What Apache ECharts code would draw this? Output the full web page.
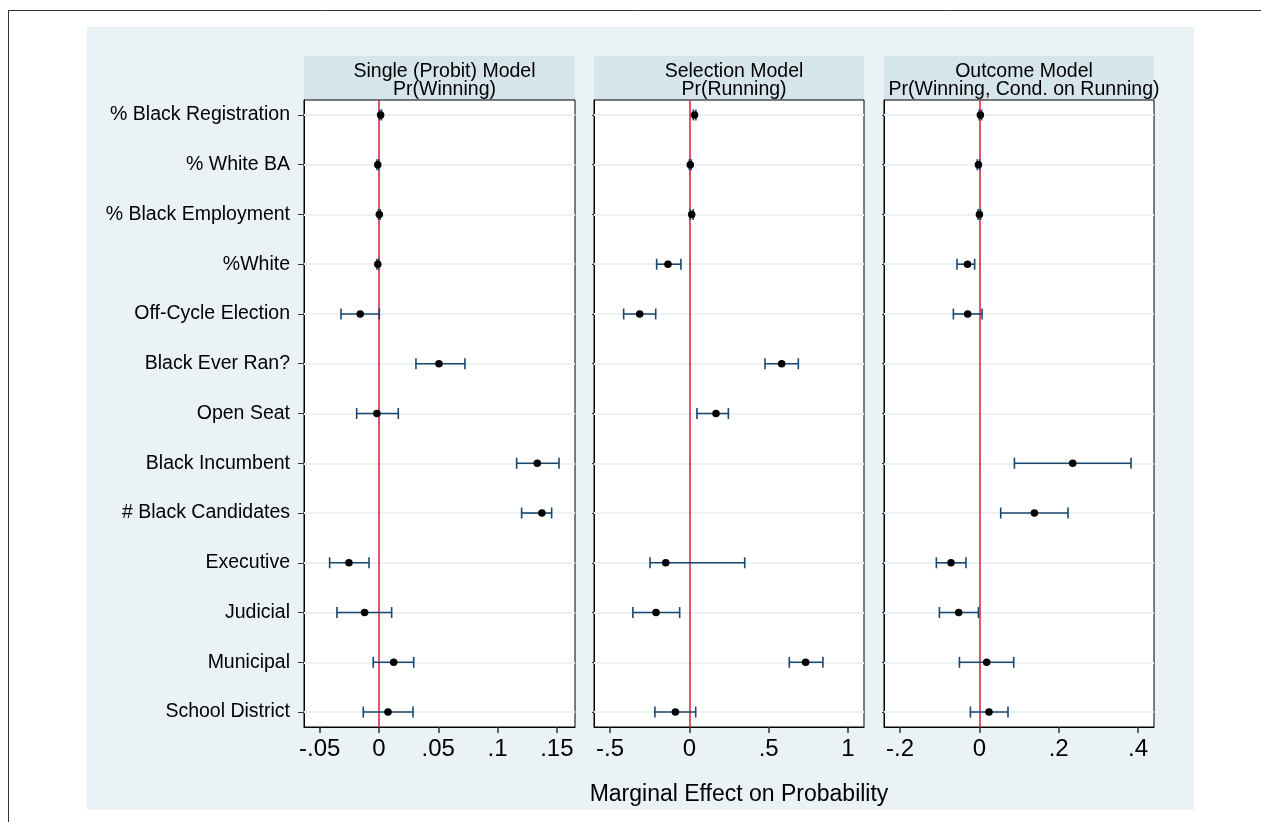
<!DOCTYPE html>
<html>
<head>
<meta charset="utf-8">
<script src="https://cdn.jsdelivr.net/npm/echarts@6/dist/echarts.min.js"></script>
<style>
  html, body { margin: 0; padding: 0; background: #fff; }
  #chart { width: 1261px; height: 822px; }
</style>
</head>
<body>
<div id="chart"></div>
<script>
// row labels, top to bottom
var categories = [
  "% Black Registration", "% White BA", "% Black Employment", "%White",
  "Off-Cycle Election", "Black Ever Ran?", "Open Seat", "Black Incumbent",
  "# Black Candidates", "Executive", "Judicial", "Municipal", "School District"
];

// Single (Probit) model - Pr(Winning)
var probitEst = [0.0014, -0.001, 0.0003, -0.001, -0.0158, 0.0506, -0.0017, 0.1335, 0.1374, -0.0253, -0.0121, 0.0124, 0.0076];
var probitLo  = [0.0006, -0.0017, -0.0004, -0.0017, -0.032, 0.0312, -0.0188, 0.1161, 0.1203, -0.0416, -0.0354, -0.0048, -0.0132];
var probitHi  = [0.0022, -0.0003, 0.001, -0.0003, 0.0003, 0.0725, 0.0163, 0.1518, 0.1456, -0.0084, 0.0107, 0.0293, 0.0287];

// Selection model - Pr(Running)
var selEst = [0.033, 0.006, 0.015, -0.135, -0.313, 0.582, 0.168, null, null, -0.149, -0.21, 0.733, -0.088];
var selLo  = [0.025, 0.0, 0.006, -0.206, -0.414, 0.477, 0.048, null, null, -0.248, -0.356, 0.63, -0.217];
var selHi  = [0.041, 0.012, 0.024, -0.053, -0.212, 0.687, 0.246, null, null, 0.349, -0.061, 0.842, 0.04];

// Outcome model - Pr(Winning, Cond. on Running)
var outEst = [0.0025, -0.0025, 0.0, -0.030, -0.0295, null, null, 0.2353, 0.1387, -0.0716, -0.0522, 0.0184, 0.0242];
var outLo  = [-0.0005, -0.0055, -0.003, -0.0565, -0.0656, null, null, 0.0883, 0.0537, -0.1085, -0.1009, -0.0504, -0.0227];
var outHi  = [0.0055, 0.0005, 0.003, -0.012, 0.0066, null, null, 0.3824, 0.2235, -0.0338, -0.0025, 0.0865, 0.0721];

// x tick values and labels per panel
var probitTicks = [-0.05, 0, 0.05, 0.1, 0.15];
var probitTickLabels = ["-.05", "0", ".05", ".1", ".15"];
var selTicks = [-0.5, 0, 0.5, 1];
var selTickLabels = ["-.5", "0", ".5", "1"];
var outTicks = [-0.2, 0, 0.2, 0.4];
var outTickLabels = ["-.2", "0", ".2", ".4"];

var panelTitles = [
  "Single (Probit) Model\nPr(Winning)",
  "Selection Model\nPr(Running)",
  "Outcome Model\nPr(Winning, Cond. on Running)"
];

var FONT = "'Liberation Sans', Arial, Helvetica, sans-serif";
var CI_COLOR = "#1a476f";

var panels = [
  { left: 304, width: 271, min: -0.0632, max: 0.1653, est: probitEst, lo: probitLo, hi: probitHi, ticks: probitTicks, labels: probitTickLabels },
  { left: 594, width: 270, min: -0.601, max: 1.101, est: selEst, lo: selLo, hi: selHi, ticks: selTicks, labels: selTickLabels },
  { left: 884, width: 270, min: -0.2406, max: 0.4403, est: outEst, lo: outLo, hi: outHi, ticks: outTicks, labels: outTickLabels }
];

var rowIdx = categories.map(function (c, i) { return i; });

var grids = [], xAxes = [], yAxes = [], series = [], titles = [], graphics = [];

graphics.push({ type: "rect", shape: { x: 87, y: 27, width: 1107, height: 783 }, style: { fill: "#eaf2f5" }, z: -10 });
graphics.push({ type: "line", shape: { x1: 8.5, y1: 10, x2: 8.5, y2: 822 }, style: { stroke: "#333", lineWidth: 1 } });
graphics.push({ type: "line", shape: { x1: 8, y1: 10.5, x2: 1261, y2: 10.5 }, style: { stroke: "#333", lineWidth: 1 } });

panels.forEach(function (p, k) {
  grids.push({ left: p.left, top: 100, width: p.width, height: 627, show: true, backgroundColor: "#fff", borderColor: "#000", borderWidth: 1 });

  graphics.push({ type: "rect", shape: { x: p.left, y: 56, width: p.width, height: 44 }, style: { fill: "#d6e4eb" }, z: -5 });
  titles.push({
    text: panelTitles[k],
    left: p.left + p.width / 2,
    top: 58,
    textAlign: "center",
    textStyle: { fontFamily: FONT, fontSize: 19.5, fontWeight: "normal", color: "#000", lineHeight: 18 }
  });

  xAxes.push({
    type: "value", gridIndex: k, min: p.min, max: p.max,
    axisLine: { show: true, onZero: false, lineStyle: { color: "#000", width: 1 } },
    axisTick: { show: true, length: 6, customValues: p.ticks, lineStyle: { color: "#333", width: 1.5 } },
    axisLabel: {
      customValues: p.ticks, fontFamily: FONT, fontSize: 24, color: "#000", margin: 10,
      formatter: function (v) {
        for (var i = 0; i < p.ticks.length; i++) if (Math.abs(p.ticks[i] - v) < 1e-9) return p.labels[i];
        return "";
      }
    },
    splitLine: { show: false }
  });

  yAxes.push({
    type: "value", gridIndex: k, min: -0.3, max: 12.3, inverse: true,
    axisLine: { show: true, onZero: false, lineStyle: { color: "#000", width: 1 } },
    axisTick: { show: true, length: k === 0 ? 6 : 2, customValues: rowIdx, lineStyle: { color: "#333", width: 1 } },
    axisLabel: {
      show: k === 0, customValues: rowIdx, fontFamily: FONT, fontSize: 19.5, color: "#000", margin: 14,
      padding: [4, 0, 0, 0],
      formatter: function (v) { return categories[Math.round(v)] || ""; }
    },
    splitLine: { show: false }
  });

  // row gridlines
  series.push({
    type: "line", xAxisIndex: k, yAxisIndex: k, data: [], silent: true,
    markLine: {
      silent: true, symbol: "none", label: { show: false }, z: 1,
      lineStyle: { color: "#eaf2f3", width: 2, type: "solid" },
      data: rowIdx.map(function (i) { return { yAxis: i }; })
    }
  });

  // zero reference line
  series.push({
    type: "line", xAxisIndex: k, yAxisIndex: k, data: [], silent: true,
    markLine: {
      silent: true, symbol: "none", label: { show: false }, z: 3,
      lineStyle: { color: "#d11f3a", width: 1.5, type: "solid" },
      data: [{ xAxis: 0 }]
    }
  });

  // confidence intervals
  var ciData = [];
  rowIdx.forEach(function (i) {
    if (p.est[i] !== null) ciData.push([p.lo[i], p.hi[i], i]);
  });
  series.push({
    type: "custom", xAxisIndex: k, yAxisIndex: k, z: 4, silent: true,
    encode: { x: [0, 1], y: 2 },
    data: ciData,
    renderItem: function (params, api) {
      var a = api.coord([api.value(0), api.value(2)]);
      var b = api.coord([api.value(1), api.value(2)]);
      var h = 5.5;
      return {
        type: "group",
        children: [
          { type: "line", shape: { x1: a[0], y1: a[1], x2: b[0], y2: b[1] }, style: { stroke: CI_COLOR, lineWidth: 1.6 } },
          { type: "line", shape: { x1: a[0], y1: a[1] - h, x2: a[0], y2: a[1] + h }, style: { stroke: CI_COLOR, lineWidth: 1.6 } },
          { type: "line", shape: { x1: b[0], y1: b[1] - h, x2: b[0], y2: b[1] + h }, style: { stroke: CI_COLOR, lineWidth: 1.6 } }
        ]
      };
    }
  });

  // point estimates
  var ptData = [];
  rowIdx.forEach(function (i) {
    if (p.est[i] !== null) ptData.push([p.est[i], i]);
  });
  series.push({
    type: "scatter", xAxisIndex: k, yAxisIndex: k, z: 5, silent: true,
    symbol: "circle", symbolSize: 7.5,
    itemStyle: { color: "#000", opacity: 1 },
    data: ptData
  });
});

titles.push({
  text: "Marginal Effect on Probability",
  left: 734, top: 778, textAlign: "center",
  textStyle: { fontFamily: FONT, fontSize: 23, fontWeight: "normal", color: "#000" }
});

var myChart = echarts.init(document.getElementById("chart"));
myChart.setOption({
  animation: false,
  backgroundColor: "#fff",
  title: titles,
  grid: grids,
  xAxis: xAxes,
  yAxis: yAxes,
  graphic: graphics,
  series: series
});
</script>
</body>
</html>
